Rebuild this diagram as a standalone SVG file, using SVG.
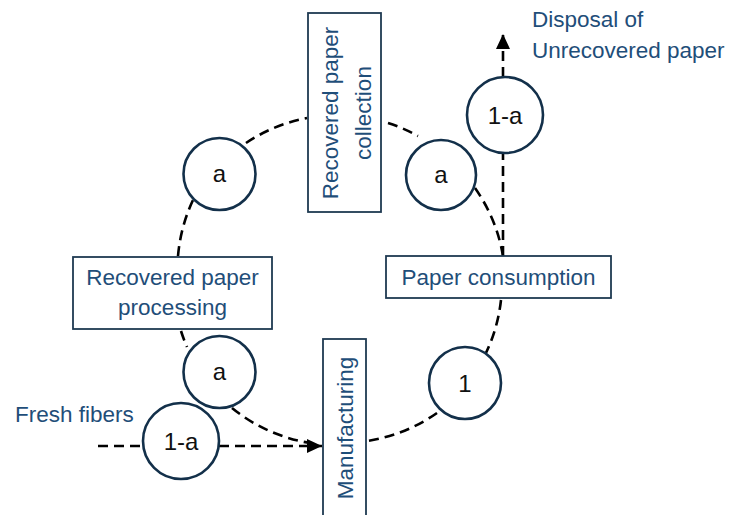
<svg xmlns="http://www.w3.org/2000/svg" width="730" height="515" viewBox="0 0 730 515">
<defs>
<style>
.box{fill:#fff;stroke:#1f3a52;stroke-width:1.8}
.circ{fill:#fff;stroke:#13304a;stroke-width:2.6}
.lbl{font-family:"Liberation Sans",Arial,sans-serif;font-size:22.5px;fill:#1f4e79;text-anchor:middle}
.clbl{font-family:"Liberation Sans",Arial,sans-serif;font-size:24px;fill:#111;text-anchor:middle}
.dash{fill:none;stroke:#000;stroke-width:2.6;stroke-dasharray:10 6}
</style>
<marker id="arr" markerUnits="userSpaceOnUse" markerWidth="16" markerHeight="14" refX="15" refY="7" orient="auto">
<path d="M0,0 L15,7 L0,14 z" fill="#000"/>
</marker>
</defs>
<rect width="730" height="515" fill="#fff"/>
<g id="connectors">
<path class="dash" d="M178,256 A165,165 0 0 1 193,200"/>
<path class="dash" d="M246,143 A165,165 0 0 1 307,118"/>
<path class="dash" d="M388,123 A165,165 0 0 1 418,136"/>
<path class="dash" d="M475,188 A165,165 0 0 1 503,256"/>
<path class="dash" d="M501,300 A165,165 0 0 1 485,355"/>
<path class="dash" d="M437,413 A165,165 0 0 1 367,441"/>
<path class="dash" d="M181,331 A165,165 0 0 0 187,347"/>
<path class="dash" d="M232,408 A165,165 0 0 0 310,443"/>
<path class="dash" d="M98,446 L143,446"/>
<path class="dash" d="M219,446 L322,446" marker-end="url(#arr)"/>
<path class="dash" d="M503,256 L503,154"/>
<path class="dash" d="M503,77 L503,34" marker-end="url(#arr)"/>
</g>
<g id="collection">
<rect class="box" x="308" y="13" width="73" height="199"/>
<text class="lbl" transform="translate(338,113) rotate(-90)">Recovered paper</text>
<text class="lbl" transform="translate(371,113) rotate(-90)">collection</text>
</g>
<g id="consumption">
<rect class="box" x="386" y="256" width="225" height="42"/>
<text class="lbl" x="498.5" y="285">Paper consumption</text>
</g>
<g id="processing">
<rect class="box" x="73" y="257" width="199" height="72"/>
<text class="lbl" x="172.5" y="285">Recovered paper</text>
<text class="lbl" x="172.5" y="315">processing</text>
</g>
<g id="manufacturing">
<rect class="box" x="323" y="339" width="43" height="185"/>
<text class="lbl" transform="translate(353,428) rotate(-90)">Manufacturing</text>
</g>
<g id="c-a-top-left">
<circle class="circ" cx="219.5" cy="174" r="36"/>
<text class="clbl" x="219.5" y="182">a</text>
</g>
<g id="c-a-top-right">
<circle class="circ" cx="441" cy="175" r="35"/>
<text class="clbl" x="441" y="183">a</text>
</g>
<g id="c-1a-top">
<circle class="circ" cx="505" cy="115" r="38"/>
<text class="clbl" x="505" y="124">1-a</text>
</g>
<g id="c-a-bottom">
<circle class="circ" cx="219.5" cy="372" r="36"/>
<text class="clbl" x="219.5" y="380">a</text>
</g>
<g id="c-1a-bottom">
<circle class="circ" cx="181" cy="441" r="38"/>
<text class="clbl" x="181" y="450">1-a</text>
</g>
<g id="c-1">
<circle class="circ" cx="465" cy="383" r="36"/>
<text class="clbl" x="465" y="392">1</text>
</g>
<g id="labels">
<text class="lbl" x="15" y="422" style="text-anchor:start">Fresh fibers</text>
<text class="lbl" x="532" y="27" style="text-anchor:start">Disposal of</text>
<text class="lbl" x="532" y="58" style="text-anchor:start">Unrecovered paper</text>
</g>
</svg>
